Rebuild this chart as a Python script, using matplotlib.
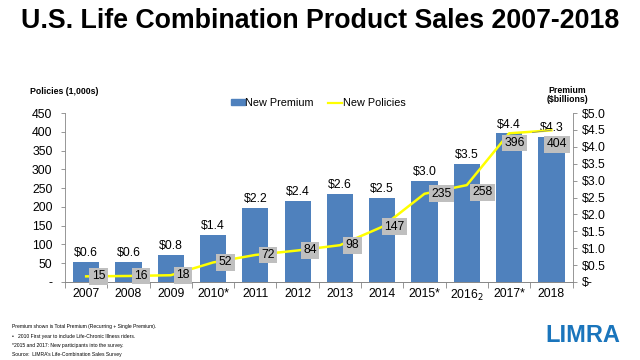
import matplotlib
matplotlib.use("Agg")
import matplotlib.pyplot as plt
from matplotlib.lines import Line2D
from matplotlib.patches import Patch

plt.rcParams['font.family'] = ['Liberation Sans', 'DejaVu Sans']

# data
years = ["2007", "2008", "2009", "2010*", "2011", "2012", "2013", "2014",
         "2015*", "2016$_2$", "2017*", "2018"]
premium = [0.6, 0.6, 0.8, 1.4, 2.2, 2.4, 2.6, 2.5, 3.0, 3.5, 4.4, 4.3]
policies = [15, 16, 18, 52, 72, 84, 98, 147, 235, 258, 396, 404]

# label offsets for the policy boxes (points)
label_offsets = [(9, 0)] * 8 + [(12, 0), (11, -5), (4, -7), (4, -10)]

fig = plt.figure(figsize=(6.4, 3.6), dpi=100)
ax = fig.add_axes([0.1016, 0.2167, 0.793, 0.4693])
ax2 = ax.twinx()

x = list(range(len(years)))
fs = 8.8

# bars belong to the right (premium) axis
ax2.bar(x, premium, width=0.62, color="#4F81BD", zorder=1)
for xi, v in zip(x, premium):
    ax2.text(xi, v + 0.08, "\\$%.1f" % v, ha="center", va="bottom", fontsize=fs)

ax2.set_ylim(0, 5)
ax2.set_yticks([i * 0.5 for i in range(11)])
ax2.set_yticklabels(["\\$-"] + ["\\$%.1f" % (i * 0.5) for i in range(1, 11)], fontsize=fs)

# line on the left (policies) axis, drawn above the bars
ax.set_zorder(ax2.get_zorder() + 1)
ax.patch.set_visible(False)
ax.plot(x, policies, color="#FFFF00", lw=1.8, zorder=3)
for xi, v, off in zip(x, policies, label_offsets):
    ax.annotate(str(v), (xi, v), xytext=off, textcoords="offset points",
                ha="center", va="center", fontsize=fs,
                bbox=dict(boxstyle="square,pad=0.2", fc="#BFBFBF", ec="none"),
                zorder=4)
ax.plot([10.55, 11], [396 + 2, 404], color="#7F7F7F", lw=0.5, zorder=3)

ax.set_ylim(0, 450)
ax.set_yticks(range(0, 451, 50))
ax.set_yticklabels(["-"] + [str(v) for v in range(50, 451, 50)], fontsize=fs)
ax.set_xlim(-0.5, len(years) - 0.5)
ax.set_xticks(x)
ax.set_xticklabels(years, fontsize=fs)
ax.tick_params(axis="x", length=0, pad=4)
ax.set_xticks([i + 0.5 for i in range(-1, len(years))], minor=True)
ax.tick_params(axis="x", which="minor", length=4, color="#868686", width=0.6)
ax.tick_params(axis="y", length=3, color="#868686", width=0.6, pad=6)
ax2.tick_params(axis="y", length=3, color="#868686", width=0.6, pad=4)

for a in (ax, ax2):
    a.spines["top"].set_visible(False)
    for s in ("left", "right", "bottom"):
        a.spines[s].set_color("#868686")
        a.spines[s].set_linewidth(0.6)
ax.spines["right"].set_visible(False)
ax2.spines["left"].set_visible(False)

# legend
handles = [Patch(color="#4F81BD", label="New Premium"),
           Line2D([0], [0], color="#FFFF00", lw=1.6, label="New Policies")]
fig.legend(handles=handles, loc="center", bbox_to_anchor=(0.497, 0.714), ncol=2,
           frameon=False, fontsize=7.8, handlelength=1.3, handleheight=0.4,
           handletextpad=0.05, columnspacing=1.3)

fig.text(0.5, 0.943, "U.S. Life Combination Product Sales 2007-2018",
         ha="center", va="center", fontsize=19.3, fontweight="bold")
fig.text(0.047, 0.747, "Policies (1,000s)", fontsize=6.3, fontweight="bold",
         ha="left", va="center")
fig.text(0.886, 0.735, "Premium\n(\\$billions)", fontsize=6.3, fontweight="bold",
         ha="center", va="center", linespacing=1.0)

notes = ["Premium shown is Total Premium (Recurring + Single Premium).",
         "\u2022   2010 First year to include Life-Chronic Illness riders.",
         "*2015 and 2017: New participants into the survey.",
         "Source:  LIMRA\u2019s Life-Combination Sales Survey"]
for i, n in enumerate(notes):
    fig.text(0.018, 0.092 - i * 0.026, n, fontsize=3.6, ha="left", va="center")

fig.text(0.911, 0.067, "LIMRA", fontsize=17, fontweight="bold", color="#1A75BC",
         ha="center", va="center")

fig.savefig("out.png", dpi=100)
